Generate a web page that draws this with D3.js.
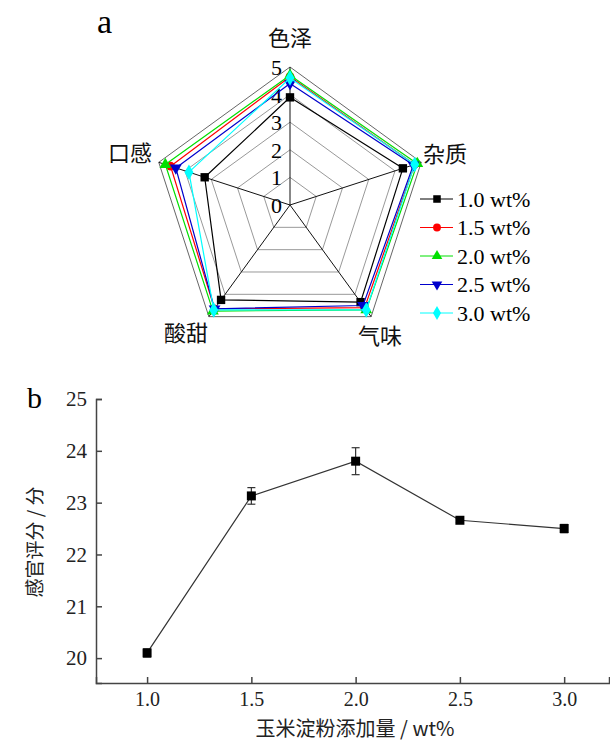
<!DOCTYPE html>
<html lang="zh">

<head>
  <meta charset="UTF-8">
  <title>感官评分</title>
  <script src="https://cdn.jsdelivr.net/npm/d3@7/dist/d3.min.js"></script>
  <style>
    html,
    body {
      width: 100%;
      margin: 0;
      background: #fff;
    }

    svg {
      display: block;
    }
  </style>
</head>

<body>
  <script>
    // 雷达图数据
    const attrs = ['色泽', '杂质', '气味', '酸甜', '口感']
    const levels = ['1.0 wt%', '1.5 wt%', '2.0 wt%', '2.5 wt%', '3.0 wt%']
    const s10 = [3.9, 4.3, 4.35, 4.25, 3.25]
    const s15 = [4.65, 4.75, 4.6, 4.65, 4.55]
    const s20 = [4.7, 4.85, 4.7, 4.75, 4.75]
    const s25 = [4.4, 4.7, 4.5, 4.65, 4.35]
    const s30 = [4.6, 4.75, 4.7, 4.7, 3.85]
    const radarTicks = [0, 1, 2, 3, 4, 5]

    // 折线图数据
    const dose = [1.0, 1.5, 2.0, 2.5, 3.0]
    const score = [20.1, 23.13, 23.8, 22.66, 22.5]
    const scoreErr = [0.08, 0.16, 0.26, 0.04, 0.08]
    const xTicks = [1.0, 1.5, 2.0, 2.5, 3.0]
    const yTicks = [20, 21, 22, 23, 24, 25]

    const width = 610
    const height = 742
    const SERIF = "'Liberation Serif', 'Times New Roman', serif"
    const CJK = "'Noto Sans CJK SC', sans-serif"

    const svg = d3.select('body').append('svg')
      .attr('width', width)
      .attr('height', height)

    // ---------- a: 雷达图 ----------
    const cx = 290
    const cy = 205
    const rScale = d3.scaleLinear().domain([0, 5]).range([0, 138])
    const aScale = d3.scaleLinear().domain([0, attrs.length]).range([0, 2 * Math.PI])
    const pt = (i, v) => [cx + rScale(v) * Math.sin(aScale(i)), cy - rScale(v) * Math.cos(aScale(i))]

    const radar = svg.append('g')

    // 网格
    radar.selectAll('.ring')
      .data(radarTicks.slice(1))
      .enter()
      .append('polygon')
      .attr('points', d => attrs.map((a, i) => pt(i, d).join(',')).join(' '))
      .attr('fill', 'none')
      .attr('stroke', d => d === 5 ? '#666' : '#999')
      .attr('stroke-width', 1)

    radar.selectAll('.spoke')
      .data(attrs)
      .enter()
      .append('line')
      .attr('x1', cx)
      .attr('y1', cy)
      .attr('x2', (d, i) => pt(i, 5)[0])
      .attr('y2', (d, i) => pt(i, 5)[1])
      .attr('stroke', '#111')
      .attr('stroke-width', 1)

    // 刻度
    radar.selectAll('.rtick')
      .data(radarTicks)
      .enter()
      .append('text')
      .attr('font-family', SERIF)
      .attr('x', cx - 8)
      .attr('y', d => cy - rScale(d) + 8)
      .attr('text-anchor', 'end')
      .attr('font-size', 22)
      .text(d => d)

    // 维度标签
    const labelPos = [
      { dx: 0, dy: -167, anchor: 'middle' },
      { dx: 133, dy: -51, anchor: 'start' },
      { dx: 90, dy: 131, anchor: 'middle' },
      { dx: -104, dy: 128, anchor: 'middle' },
      { dx: -160, dy: -52, anchor: 'middle' }
    ]
    radar.selectAll('.attr')
      .data(attrs)
      .enter()
      .append('text')
      .attr('font-family', CJK)
      .attr('x', (d, i) => cx + labelPos[i].dx)
      .attr('y', (d, i) => cy + labelPos[i].dy + 8)
      .attr('text-anchor', (d, i) => labelPos[i].anchor)
      .attr('font-size', 22)
      .attr('fill', '#111')
      .text(d => d)

    // 系列
    const colors = ['#000000', '#ff0000', '#00e000', '#0000cc', '#00ffff']
    const shapes = [d3.symbolSquare, d3.symbolCircle, d3.symbolTriangle, 'down', d3.symbolDiamond]
    const sizes = [70, 60, 60, 60, 70]
    const seriesList = [s10, s15, s20, s25, s30]

    function drawMarker(g, k, x, y, scale) {
      const s = scale || 1
      const rot = shapes[k] === 'down' ? ' rotate(180)' : ''
      const type = shapes[k] === 'down' ? d3.symbolTriangle : shapes[k]
      g.append('path')
        .attr('d', d3.symbol(type, sizes[k] * s * s)())
        .attr('transform', `translate(${x},${y})${rot}`)
        .attr('fill', colors[k])
    }

    seriesList.forEach((vals, k) => {
      const g = radar.append('g')
      g.append('polygon')
        .attr('points', vals.map((v, i) => pt(i, v).join(',')).join(' '))
        .attr('fill', 'none')
        .attr('stroke', colors[k])
        .attr('stroke-width', 1.2)
      vals.forEach((v, i) => {
        const p = pt(i, v)
        drawMarker(g, k, p[0], p[1])
      })
    })

    // 图例
    const legend = svg.append('g')
    levels.forEach((name, k) => {
      const y = 199 + k * 28.5
      legend.append('line')
        .attr('x1', 420).attr('x2', 453)
        .attr('y1', y).attr('y2', y)
        .attr('stroke', colors[k])
        .attr('stroke-width', 1)
      drawMarker(legend, k, 437, y, 0.9)
      legend.append('text')
        .attr('font-family', SERIF)
        .attr('x', 457)
        .attr('y', y + 7.5)
        .attr('font-size', 22)
        .text(name)
    })

    svg.append('text')
      .attr('font-family', SERIF)
      .attr('x', 97)
      .attr('y', 33)
      .attr('font-size', 34)
      .text('a')

    // ---------- b: 折线图 ----------
    const xScale = d3.scaleLinear().domain([0.755, 3.215]).range([96, 609])
    const yScale = d3.scaleLinear().domain([19.52, 25]).range([683, 399])

    const gx = svg.append('g')
      .attr('transform', `translate(0, ${yScale(19.52)})`)
      .call(d3.axisBottom(xScale).tickValues(xTicks).tickSize(-6).tickPadding(9).tickFormat(d3.format('.1f')))
    gx.select('.domain').attr('stroke', '#444').attr('stroke-width', 1.5)
    gx.selectAll('.tick line').attr('stroke', '#444').attr('stroke-width', 1.5)
    gx.selectAll('text')
      .attr('font-family', SERIF)
      .attr('font-size', 20)
      .attr('fill', '#222')

    const gy = svg.append('g')
      .attr('transform', `translate(${xScale(0.755)}, 0)`)
      .call(d3.axisLeft(yScale).tickValues(yTicks).tickSize(-6).tickPadding(9).tickFormat(d3.format('d')))
    gy.select('.domain').attr('stroke', '#444').attr('stroke-width', 1.5)
    gy.selectAll('.tick line').attr('stroke', '#444').attr('stroke-width', 1.5)
    gy.selectAll('text')
      .attr('font-family', SERIF)
      .attr('font-size', 21)
      .attr('fill', '#222')

    // 折线
    const line = d3.line()
      .x((d, i) => xScale(dose[i]))
      .y(d => yScale(d))
    svg.append('path')
      .datum(score)
      .attr('d', line)
      .attr('fill', 'none')
      .attr('stroke', '#333')
      .attr('stroke-width', 1.2)

    // 误差线
    const eb = svg.append('g').attr('stroke', '#333').attr('stroke-width', 1.2)
    score.forEach((v, i) => {
      const x = xScale(dose[i])
      eb.append('line').attr('x1', x).attr('x2', x)
        .attr('y1', yScale(v - scoreErr[i])).attr('y2', yScale(v + scoreErr[i]))
      ;[v - scoreErr[i], v + scoreErr[i]].forEach(e => {
        eb.append('line').attr('x1', x - 4).attr('x2', x + 4)
          .attr('y1', yScale(e)).attr('y2', yScale(e))
      })
    })

    svg.selectAll('.pt')
      .data(score)
      .enter()
      .append('rect')
      .attr('x', (d, i) => xScale(dose[i]) - 4.5)
      .attr('y', d => yScale(d) - 4.5)
      .attr('width', 9)
      .attr('height', 9)
      .attr('fill', '#000')

    // 标题
    svg.append('text')
      .attr('font-family', CJK)
      .attr('x', 355)
      .attr('y', 736)
      .attr('text-anchor', 'middle')
      .attr('font-size', 20)
      .attr('fill', '#222')
      .text('玉米淀粉添加量 / wt%')

    svg.append('text')
      .attr('font-family', CJK)
      .attr('transform', 'translate(42, 542) rotate(-90)')
      .attr('text-anchor', 'middle')
      .attr('font-size', 19)
      .attr('fill', '#222')
      .text('感官评分 / 分')

    svg.append('text')
      .attr('font-family', SERIF)
      .attr('x', 27)
      .attr('y', 408)
      .attr('font-size', 30)
      .text('b')
  </script>
</body>

</html>
